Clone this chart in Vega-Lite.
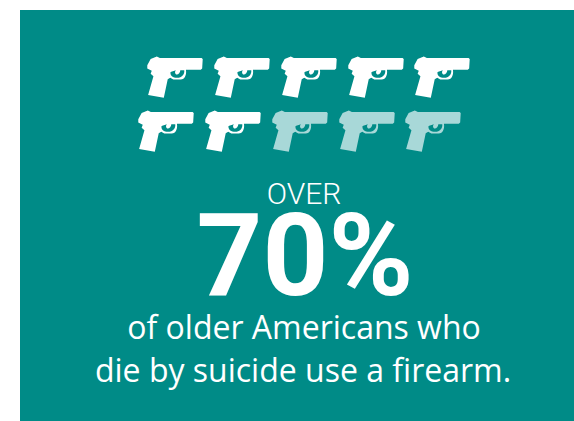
{"$schema":"https://vega.github.io/schema/vega-lite/v6.json","width":574,"height":421,"autosize":{"type":"fit","contains":"padding"},"padding":0,"background":"white","view":{"stroke":null},
"encoding":{"x":{"field":"x","type":"quantitative","scale":{"domain":[0,574],"nice":false,"zero":false},"axis":null},"y":{"field":"y","type":"quantitative","scale":{"domain":[421,0],"nice":false,"zero":false},"axis":null}},
"layer":[
{"data":{"values":[{"x":20,"x2":574,"y":10,"y2":421}]},"mark":{"type":"rect","color":"#008B87"},"encoding":{"x2":{"field":"x2"},"y2":{"field":"y2"}}},
{"data":{"values":[{"x":175,"y":77,"s":"filled"},{"x":242,"y":77,"s":"filled"},{"x":309,"y":77,"s":"filled"},{"x":376,"y":77,"s":"filled"},{"x":442,"y":77,"s":"filled"},{"x":166,"y":131,"s":"filled"},{"x":233,"y":131,"s":"filled"},{"x":300,"y":131,"s":"empty"},{"x":367,"y":131,"s":"empty"},{"x":433,"y":131,"s":"empty"}]},
"mark":{"type":"point","filled":true,"opacity":1,"strokeWidth":0,"size":3136,"shape":"M-0.99,-0.42 L-0.87,-0.64 L-0.65,-0.73 L-0.54,-0.68 L0.95,-0.68 L0.99,-0.64 L0.97,-0.3 L0.92,-0.26 L0.39,-0.26 C0.42,-0.1 0.36,0.09 0.2,0.09 L-0.06,0.09 L-0.17,0.03 L-0.26,0.08 L-0.4,0.74 L-0.96,0.64 L-0.77,-0.03 L-0.87,-0.12 L-0.83,-0.22 L-0.99,-0.3 Z M-0.16,-0.18 C-0.18,-0.05 -0.08,0.03 0.08,0.03 C0.24,0.03 0.35,-0.09 0.33,-0.24 L0.19,-0.24 C0.19,-0.15 0.11,-0.07 0.04,-0.09 C-0.01,-0.12 -0.01,-0.2 0.03,-0.24 Z"},
"encoding":{"color":{"field":"s","type":"nominal","legend":null,"scale":{"domain":["filled","empty"],"range":["#FFFFFF","#A8D8D8"]}}}},
{"data":{"values":[{"x":304,"y":195,"t":"OVER"}]},"mark":{"type":"text","font":"Roboto","fontSize":30,"fontWeight":300,"color":"white","align":"center","baseline":"middle"},"encoding":{"text":{"field":"t"}}},
{"data":{"values":[{"x":305,"y":260,"t":"70%"}]},"mark":{"type":"text","font":"Roboto","fontSize":115,"fontWeight":"bold","color":"white","align":"center","baseline":"middle"},"encoding":{"text":{"field":"t"}}},
{"data":{"values":[{"x":304,"y":329,"t":"of older Americans who"},{"x":303,"y":372,"t":"die by suicide use a firearm."}]},"mark":{"type":"text","font":"Open Sans","fontSize":32,"color":"white","align":"center","baseline":"middle"},"encoding":{"text":{"field":"t"}}}
]}
